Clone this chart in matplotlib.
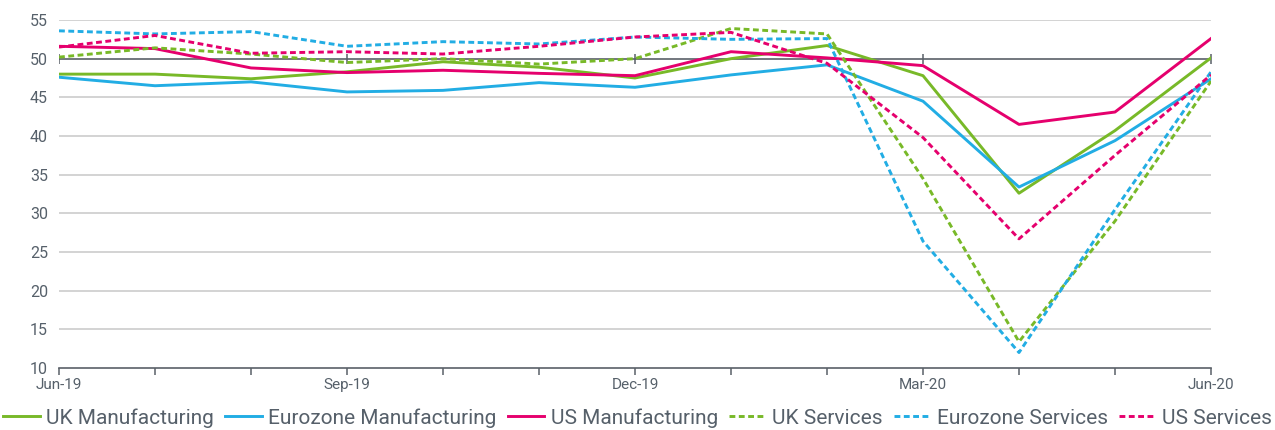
import matplotlib
matplotlib.use("Agg")
import matplotlib.pyplot as plt

months = ["Jun-19", "Jul-19", "Aug-19", "Sep-19", "Oct-19", "Nov-19", "Dec-19",
          "Jan-20", "Feb-20", "Mar-20", "Apr-20", "May-20", "Jun-20"]

uk_manufacturing = [48.0, 48.0, 47.4, 48.3, 49.6, 48.9, 47.5, 50.0, 51.7, 47.8, 32.6, 40.7, 50.1]
ez_manufacturing = [47.6, 46.5, 47.0, 45.7, 45.9, 46.9, 46.3, 47.9, 49.2, 44.5, 33.4, 39.4, 47.4]
us_manufacturing = [51.6, 51.3, 48.8, 48.2, 48.5, 48.1, 47.8, 50.9, 50.1, 49.1, 41.5, 43.1, 52.6]
uk_services = [50.2, 51.4, 50.6, 49.5, 50.0, 49.3, 50.0, 53.9, 53.2, 34.5, 13.4, 29.0, 47.1]
ez_services = [53.6, 53.2, 53.5, 51.6, 52.2, 51.9, 52.8, 52.5, 52.6, 26.4, 12.0, 30.5, 48.3]
us_services = [51.5, 53.0, 50.7, 50.9, 50.6, 51.6, 52.8, 53.4, 49.4, 39.8, 26.7, 37.5, 47.9]

GREEN = "#78B928"
BLUE = "#22ADE4"
PINK = "#E5006D"
TEXT = "#56606A"
AXIS = "#5A6068"

plt.rcParams['font.family'] = ['Roboto', 'DejaVu Sans']

fig = plt.figure(figsize=(12.75, 4.3), dpi=100)
ax = fig.add_axes([59 / 1275, 1 - 368 / 430, (1211 - 59) / 1275, (368 - 20) / 430])

x = list(range(len(months)))

# gridlines
for v in range(15, 60, 5):
    if v != 50:
        ax.axhline(v, color="#C8C8C8", lw=1.1, zorder=0)
ax.axhline(50, color=AXIS, lw=1.2, zorder=1)
quarters = x[::3]
ax.plot(quarters, [50] * len(quarters), linestyle="none", marker="|",
        markersize=7, markeredgewidth=1.1, color=AXIS, zorder=1)

dash = (0, (2.0, 1.2))
series = [
    ("UK Manufacturing", uk_manufacturing, GREEN, "-"),
    ("Eurozone Manufacturing", ez_manufacturing, BLUE, "-"),
    ("US Manufacturing", us_manufacturing, PINK, "-"),
    ("UK Services", uk_services, GREEN, dash),
    ("Eurozone Services", ez_services, BLUE, dash),
    ("US Services", us_services, PINK, dash),
]
for name, vals, col, ls in series:
    ax.plot(x, vals, color=col, linestyle=ls, lw=2.1, label=name, zorder=3)

ax.set_xlim(0, len(months) - 1)
ax.set_ylim(10, 55)
ax.set_yticks(range(10, 60, 5))
ax.set_xticks(x, minor=True)
ax.set_xticks(quarters)
ax.set_xticklabels([months[i] for i in quarters])

for s in ["top", "right", "left"]:
    ax.spines[s].set_visible(False)
ax.spines["bottom"].set_color(AXIS)
ax.spines["bottom"].set_linewidth(1.2)
ax.tick_params(axis="y", length=0, pad=8, labelsize=11.5, labelcolor=TEXT)
ax.tick_params(axis="x", which="both", direction="out", length=5, width=1.1,
               color=AXIS, labelsize=11, labelcolor=TEXT, pad=2)

leg = fig.legend(loc="center", bbox_to_anchor=(0.5, 1 - 418 / 430), ncol=6,
                 frameon=False, fontsize=15, handlelength=1.75,
                 handletextpad=0.3, columnspacing=0.55, borderaxespad=0)
for t in leg.get_texts():
    t.set_color(TEXT)

fig.savefig("out.png", dpi=100)
